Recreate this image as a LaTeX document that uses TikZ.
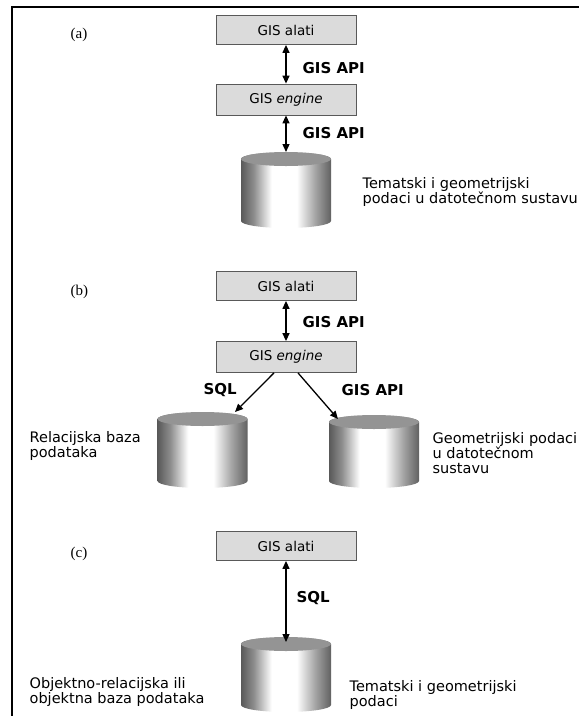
\documentclass[tikz,border=0pt]{standalone}
\usepackage{fontspec}
\setmainfont{DejaVu Sans}
\newfontfamily\partfont{Liberation Serif}
\usetikzlibrary{arrows.meta}

\pgfdeclarehorizontalshading{cylshade}{100bp}{color(0bp)=(black!65); color(25bp)=(black!65); color(32bp)=(black!45); color(42bp)=(white); color(56bp)=(white); color(66bp)=(black!35); color(75bp)=(black!62); color(100bp)=(black!62)}

% database drum: name, centre x, top y, bottom y
\newcommand{\dbcyl}[4]{%
  \shade[shading=cylshade] (#2-45,#3+7) -- (#2-45,#4-7)
    arc[start angle=180,end angle=360,x radius=45pt,y radius=7pt]
    -- (#2+45,#3+7)
    arc[start angle=0,end angle=180,x radius=45pt,y radius=7pt] -- cycle;
  \fill[black!42] (#2,#3+7) ellipse [x radius=45pt,y radius=7pt];
  \coordinate (#1) at (#2,#3);
}

\begin{document}
\begin{tikzpicture}[x=1pt,y=-1pt,line width=1.3pt,
  >={Triangle[length=8pt,width=7pt]},
  gisbox/.style={draw=black!65,line width=0.8pt,fill=black!14,minimum width=140pt,
    minimum height=29pt,inner sep=0pt,font=\fontsize{13.5}{14}\selectfont},
  lbl/.style={anchor=west,inner sep=0pt,font=\bfseries\fontsize{15}{15}\selectfont},
  txt/.style={anchor=west,inner sep=0pt,align=left,font=\fontsize{14.5}{14.8}\selectfont},
  part/.style={anchor=west,inner sep=0pt,font=\partfont\fontsize{15}{15}\selectfont}]

\useasboundingbox (0,0) rectangle (579,716);

\draw[line width=2.5pt] (579,7)--(12,7)--(12,716);

% (a)
\node [part] (pa) at (70,35) {(a)};
\node [gisbox] (alatiA) at (286,30) {GIS alati};
\node [gisbox,minimum height=31pt] (engA) at (286,99.5) {GIS \textit{engine}};
\dbcyl{cylA}{286}{152}{228}

\draw[<->]  (alatiA.south)--(engA.north);
\draw[<->]  (engA.south)--(cylA);

\node [lbl] (apiA1) at (302,68) {GIS API};
\node [lbl] (apiA2) at (302,133) {GIS API};
\node [txt] (txtA) at (362,192) {Tematski i geometrijski\\podaci u datotečnom sustavu};

% (b)
\node [part] (pb) at (70,292) {(b)};
\node [gisbox] (alatiB) at (286,286) {GIS alati};
\node [gisbox,minimum height=31pt] (engB) at (286,357) {GIS \textit{engine}};
\dbcyl{cylBL}{202.5}{412}{488}
\dbcyl{cylBR}{374}{415}{488}

\draw[<->]  (alatiB.south)--(engB.north);
\draw[->]  ([xshift=-12pt]engB.south)--([xshift=32.5pt]cylBL);
\draw[->]  ([xshift=12pt]engB.south)--([xshift=-36pt,yshift=-4pt]cylBR);

\node [lbl] (apiB1) at (302,322) {GIS API};
\node [lbl] (sqlB) at (203,390) {SQL};
\node [lbl] (apiB2) at (341,390) {GIS API};
\node [txt] (txtBL) at (29,446) {Relacijska baza\\podataka};
\node [txt] (txtBR) at (432,453) {Geometrijski podaci\\u datotečnom\\sustavu};

% (c)
\node [part] (pc) at (70,554) {(c)};
\node [gisbox] (alatiC) at (286,546) {GIS alati};
\dbcyl{cylC}{286}{637}{712}

\draw[<->]  (alatiC.south)--([yshift=-5pt]cylC);

\node [lbl] (sqlC) at (296,598) {SQL};
\node [txt] (txtCL) at (29,692) {Objektno-relacijska ili\\objektna baza podataka};
\node [txt] (txtCR) at (349,695) {Tematski i geometrijski\\podaci};
\end{tikzpicture}
\end{document}
